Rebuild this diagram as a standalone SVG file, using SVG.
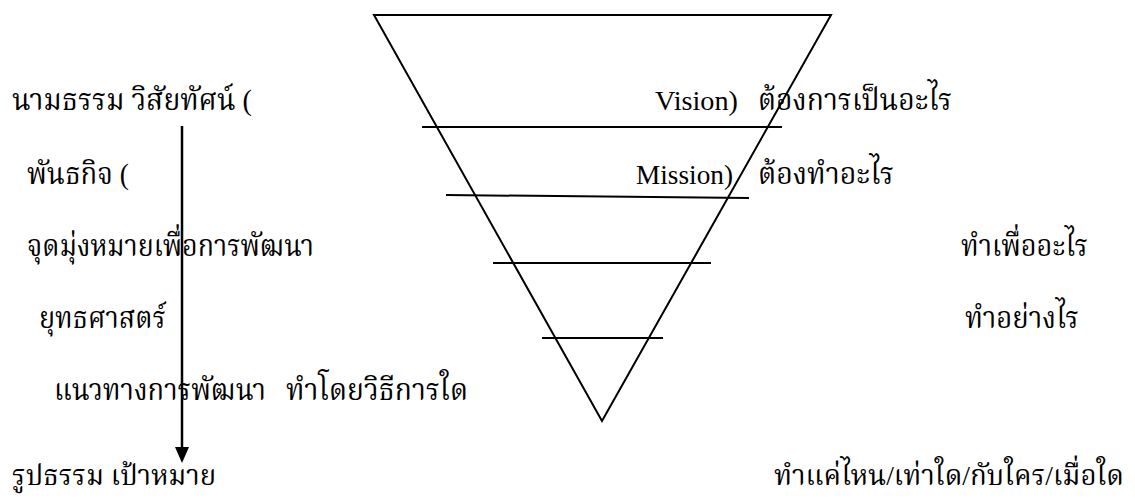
<svg xmlns="http://www.w3.org/2000/svg" width="1135" height="500" viewBox="0 0 1135 500">
<style>
.t{font-family:"Liberation Serif","Noto Serif Thai","Noto Sans Thai","Laksaman","Garuda",serif;font-size:30px;fill:#000}
.b{font-size:28px}
.e{font-family:"Liberation Serif","Times New Roman",serif;font-size:27px;fill:#000}
.l{stroke:#000;stroke-width:2;fill:none}
</style>
<rect width="1135" height="500" fill="#fff"/>
<g id="pyramid">
<path class="l" d="M374,15 L831,15 L602,421 Z"/>
<line class="l" x1="422" y1="127" x2="782" y2="127"/>
<line class="l" x1="446" y1="195" x2="749" y2="198"/>
<line class="l" x1="493" y1="263" x2="711" y2="263"/>
<line class="l" x1="542" y1="338" x2="663" y2="338"/>
</g>
<g id="connectors">
<line x1="182" y1="126" x2="182" y2="449" stroke="#000" stroke-width="2.5"/>
<path d="M175,447 L189,447 L182,463 Z" fill="#000"/>
</g>
<g id="labels">
<text class="t" x="12" y="110" textLength="240" lengthAdjust="spacingAndGlyphs">นามธรรม วิสัยทัศน์ (</text>
<text class="e" x="655" y="110" textLength="83" lengthAdjust="spacingAndGlyphs">Vision)</text>
<text class="t" x="758" y="110" textLength="194" lengthAdjust="spacingAndGlyphs">ต้องการเป็นอะไร</text>
<text class="t" x="27" y="184" textLength="102" lengthAdjust="spacingAndGlyphs">พันธกิจ (</text>
<text class="e" x="636" y="184" textLength="97" lengthAdjust="spacingAndGlyphs">Mission)</text>
<text class="t" x="758" y="184" textLength="136" lengthAdjust="spacingAndGlyphs">ต้องทำอะไร</text>
<text class="t" x="27" y="256" textLength="287" lengthAdjust="spacingAndGlyphs">จุดมุ่งหมายเพื่อการพัฒนา</text>
<text class="t" x="961" y="256" textLength="127" lengthAdjust="spacingAndGlyphs">ทำเพื่ออะไร</text>
<text class="t" x="39" y="328" textLength="127" lengthAdjust="spacingAndGlyphs">ยุทธศาสตร์</text>
<text class="t" x="965" y="328" textLength="114" lengthAdjust="spacingAndGlyphs">ทำอย่างไร</text>
<text class="t" x="54" y="400" textLength="212" lengthAdjust="spacingAndGlyphs">แนวทางการพัฒนา</text>
<text class="t" x="286" y="400" textLength="182" lengthAdjust="spacingAndGlyphs">ทำโดยวิธีการใด</text>
<text class="t b" x="12" y="485" textLength="204" lengthAdjust="spacingAndGlyphs">รูปธรรม เป้าหมาย</text>
<text class="t b" x="774" y="485" textLength="350" lengthAdjust="spacingAndGlyphs">ทำแค่ไหน/เท่าใด/กับใคร/เมื่อใด</text>
</g>
</svg>
